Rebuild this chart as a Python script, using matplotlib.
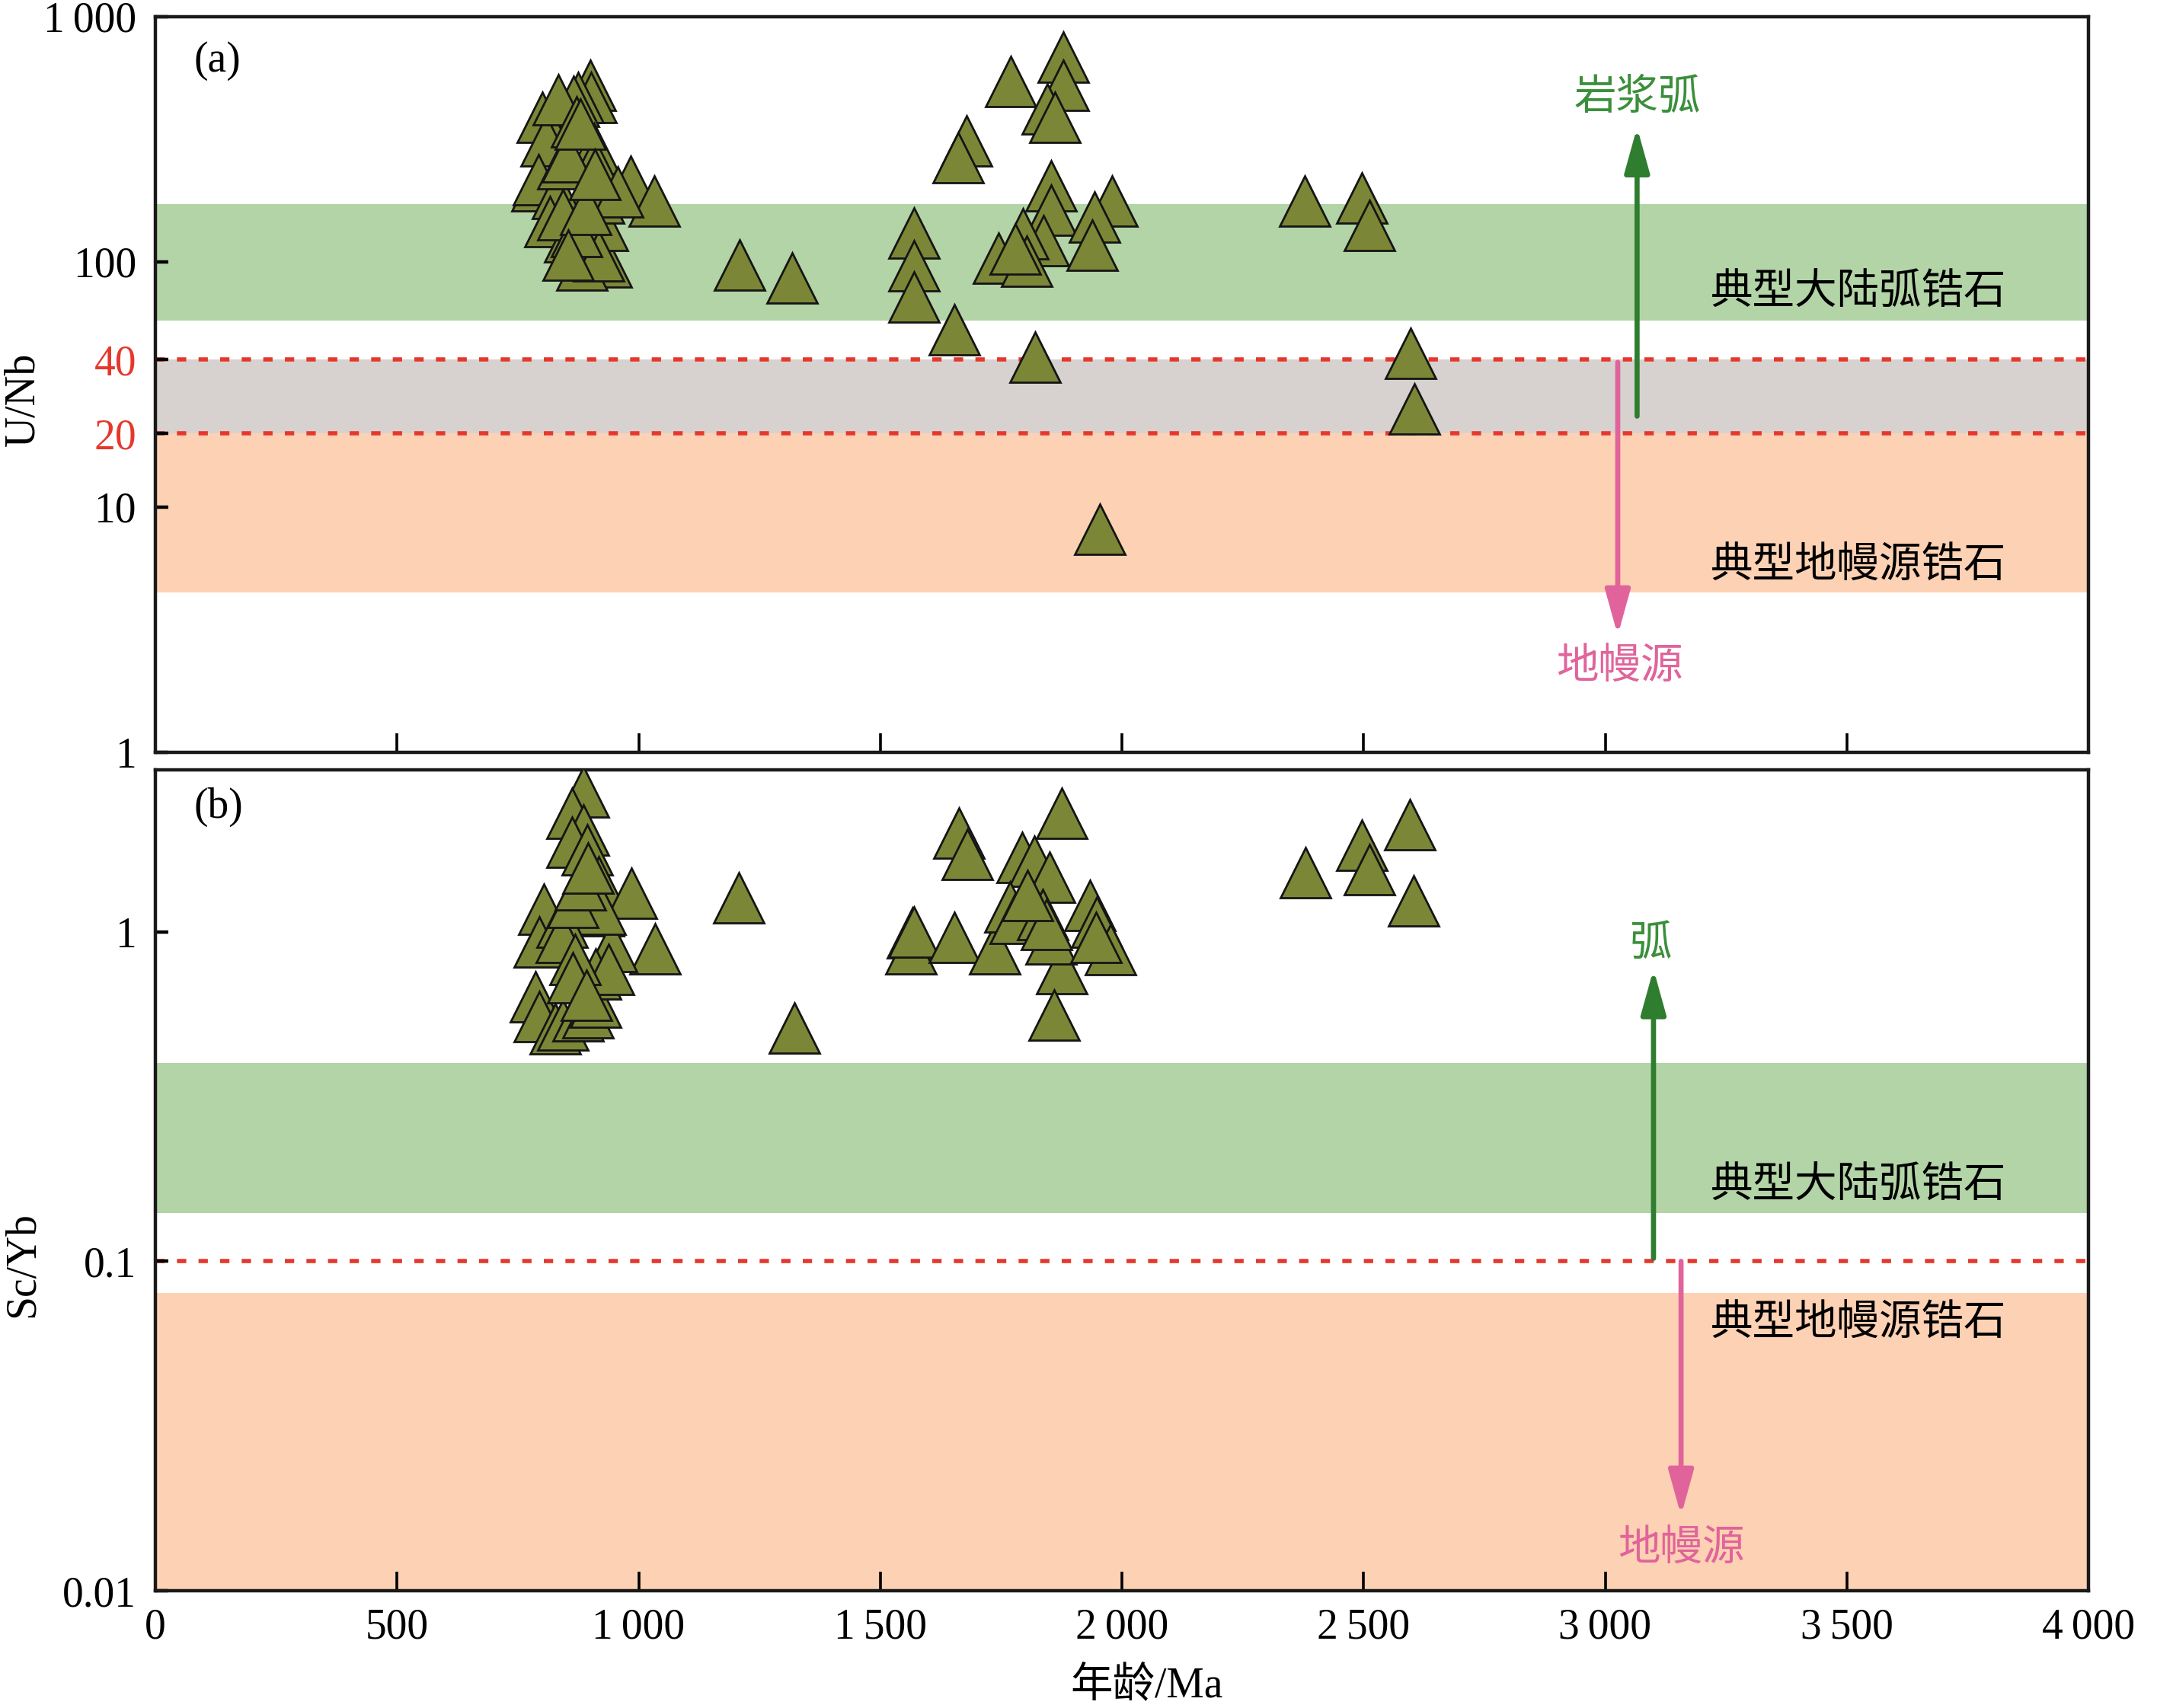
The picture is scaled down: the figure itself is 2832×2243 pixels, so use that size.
import matplotlib
matplotlib.use("Agg")
import matplotlib.pyplot as plt
import numpy as np

# ---------------- data ----------------
# Panel (a): age (Ma) vs U/Nb
age_a = [900, 901, 875, 866, 800, 808, 834, 871, 908, 908, 908, 984, 1033, 933, 883,
         925, 790, 793, 832, 817, 858, 883, 917, 917, 956, 843, 872, 890, 843, 853,
         880, 909, 854, 1209, 1318,
         1770, 1878, 1878, 1846, 1862, 1678, 1661, 1853, 1853, 1979, 1944, 1938, 1837,
         1795, 1745, 1803, 1779, 1569, 1569, 1569, 1653, 1820, 1954,
         2379, 2497, 2513, 2597, 2605]
u_nb = [526, 469, 467, 453, 390, 311, 458, 372, 290, 254, 213, 214, 177, 100, 97,
        141, 204, 217, 191, 146, 127, 118, 106, 182, 193, 156, 133, 164, 251, 269,
        366, 227, 107, 97, 86,
        545, 683, 524, 420, 390, 311, 266, 205, 163, 177, 152, 117, 122,
        130, 104, 101, 113, 131, 96.5, 72, 53, 41, 8.15,
        177, 182, 141, 42.5, 25.2]

# Panel (b): age (Ma) vs Sc/Yb
age_b = [886, 862, 886, 862, 894, 918, 985, 918, 1034, 944, 804, 795, 787, 795, 828,
         843, 875, 895, 911, 911, 937, 921, 842, 840, 869, 863, 892, 863, 879, 895,
         1207, 1323,
         1876, 1662, 1680, 1793, 1818, 1851, 1934, 1948, 1977, 1876, 1860, 1566, 1563,
         1569, 1653, 1737, 1854, 1768, 1779, 1836, 1844, 1946, 1805,
         2380, 2496, 2512, 2595, 2603]
sc_yb = [2.65, 2.29, 2.04, 1.87, 1.77, 1.42, 1.31, 1.16, 0.886, 0.90, 1.17, 0.93, 0.636, 0.552, 0.508,
         0.52, 0.557, 0.569, 0.61, 0.745, 0.77, 1.17, 1.07, 0.96, 0.823, 0.726, 0.64, 1.23, 1.39, 1.56,
         1.27, 0.511,
         2.29, 1.99, 1.72, 1.68, 1.64, 1.46, 1.20, 1.07, 0.885, 0.773, 0.56, 0.99, 0.89,
         1.0, 0.96, 0.886, 0.952, 1.19, 1.10, 1.13, 1.05, 0.96, 1.29,
         1.51, 1.83, 1.54, 2.11, 1.24]

# Reference fields
arc_a = (57.5, 172)      # typical continental arc zircon, U/Nb
gray_a = (20, 40)
mantle_a = (4.5, 20)
arc_b = (0.14, 0.40)
mantle_b = (0.01, 0.08)

x_ticks = [0, 500, 1000, 1500, 2000, 2500, 3000, 3500, 4000]
x_ticklabels = ["0", "500", "1\u2009000", "1\u2009500", "2\u2009000", "2\u2009500",
                "3\u2009000", "3\u2009500", "4\u2009000"]
ya_ticks = [1, 10, 20, 40, 100, 1000]
ya_ticklabels = ["1", "10", "20", "40", "100", "1\u2009000"]
yb_ticks = [0.01, 0.1, 1]
yb_ticklabels = ["0.01", "0.1", "1"]

# ---------------- style ----------------
SERIF = ["Liberation Serif", "DejaVu Serif"]
CJK = ["Noto Sans CJK SC", "DejaVu Sans"]
MIX = ["Liberation Serif", "Noto Sans CJK SC", "DejaVu Serif"]
plt.rcParams["font.family"] = SERIF

C_GREEN_BAND = "#b2d4a6"
C_GRAY_BAND = "#d7d2cf"
C_ORANGE_BAND = "#fdd1b3"
C_RED = "#e5382c"
C_TRI = "#7b8736"
C_GTXT = "#3b8f3b"
C_PINK = "#e0649b"
FS = 20

W, H = 2832, 2243
fig = plt.figure(figsize=(W / 200, H / 200), dpi=200)

def fx(px):
    return px / W

def fy(py):
    return 1 - py / H

left, right = 204, 2742
axa = fig.add_axes([fx(left), fy(988), fx(right) - fx(left), fy(22) - fy(988)])
axb = fig.add_axes([fx(left), fy(2089), fx(right) - fx(left), fy(1011) - fy(2089)])

for ax in (axa, axb):
    ax.set_yscale("log")
    ax.set_xlim(0, 4000)
    for s in ax.spines.values():
        s.set_linewidth(1.6)
        s.set_color("#1a1a1a")
    ax.minorticks_off()
    ax.set_xticks(x_ticks)
    ax.tick_params(axis="x", direction="in", length=9, width=1.3, pad=8,
                   labelsize=FS, top=False)
    ax.tick_params(axis="y", direction="in", length=6, width=1.6, pad=9,
                   labelsize=FS, right=False)
    ax.yaxis.set_minor_locator(matplotlib.ticker.NullLocator())

MS = 23.5

# ---- panel (a) ----
axa.set_ylim(1, 1000)
axa.axhspan(*arc_a, color=C_GREEN_BAND, lw=0, zorder=0)
axa.axhspan(*gray_a, color=C_GRAY_BAND, lw=0, zorder=0)
axa.axhspan(*mantle_a, color=C_ORANGE_BAND, lw=0, zorder=0)
for v in (40, 20):
    axa.axhline(v, color=C_RED, lw=2.0, dashes=(2.2, 2.9), zorder=1)
axa.set_yticks(ya_ticks)
axa.set_yticklabels(ya_ticklabels)
for lab, v in zip(axa.get_yticklabels(), ya_ticks):
    if v in (20, 40):
        lab.set_color(C_RED)
axa.set_xticklabels([])
axa.plot(age_a, u_nb, linestyle="none", marker="^", ms=MS, mfc=C_TRI,
         mec="#151515", mew=1.0, zorder=3)
axa.text(0.02, 0.94, "(a)", transform=axa.transAxes, fontsize=FS, va="center",
         ha="left")
axa.text(3525, 75, "典型大陆弧锆石", fontsize=FS, family=CJK, ha="center",
         va="center", zorder=4)
axa.text(3525, 5.8, "典型地幔源锆石", fontsize=FS, family=CJK, ha="center",
         va="center", zorder=4)
axa.annotate("", xy=(3066, 354), xytext=(3066, 23.5),
             arrowprops=dict(arrowstyle="-|>,head_length=0.9,head_width=0.25",
                             color="#2f7d2f", lw=2.4, mutation_scale=20,
                             shrinkA=0, shrinkB=0), zorder=4)
axa.annotate("", xy=(3026, 3.0), xytext=(3026, 39),
             arrowprops=dict(arrowstyle="-|>,head_length=0.9,head_width=0.25",
                             color=C_PINK, lw=2.4, mutation_scale=20,
                             shrinkA=0, shrinkB=0), zorder=4)
axa.text(3066, 469, "岩浆弧", fontsize=FS, family=CJK, color=C_GTXT,
         ha="center", va="center")
axa.text(3030, 2.25, "地幔源", fontsize=FS, family=CJK, color=C_PINK,
         ha="center", va="center")

# ---- panel (b) ----
axb.set_ylim(0.01, 3.1)
axb.axhspan(*arc_b, color=C_GREEN_BAND, lw=0, zorder=0)
axb.axhspan(*mantle_b, color=C_ORANGE_BAND, lw=0, zorder=0)
axb.axhline(0.1, color=C_RED, lw=2.0, dashes=(2.2, 2.9), zorder=1)
axb.set_yticks(yb_ticks)
axb.set_yticklabels(yb_ticklabels)
axb.set_xticklabels(x_ticklabels)
axb.plot(age_b, sc_yb, linestyle="none", marker="^", ms=MS, mfc=C_TRI,
         mec="#151515", mew=1.0, zorder=3)
axb.text(0.02, 0.955, "(b)", transform=axb.transAxes, fontsize=FS, va="center",
         ha="left")
axb.text(3525, 0.1695, "典型大陆弧锆石", fontsize=FS, family=CJK, ha="center",
         va="center", zorder=4)
axb.text(3525, 0.065, "典型地幔源锆石", fontsize=FS, family=CJK, ha="center",
         va="center", zorder=4)
axb.annotate("", xy=(3100, 0.77), xytext=(3100, 0.102),
             arrowprops=dict(arrowstyle="-|>,head_length=0.9,head_width=0.25",
                             color="#2f7d2f", lw=2.4, mutation_scale=20,
                             shrinkA=0, shrinkB=0), zorder=4)
axb.annotate("", xy=(3157, 0.0169), xytext=(3157, 0.1),
             arrowprops=dict(arrowstyle="-|>,head_length=0.9,head_width=0.25",
                             color=C_PINK, lw=2.4, mutation_scale=20,
                             shrinkA=0, shrinkB=0), zorder=4)
axb.text(3095, 0.92, "弧", fontsize=FS, family=CJK, color=C_GTXT,
         ha="center", va="center")
axb.text(3157, 0.01347, "地幔源", fontsize=FS, family=CJK, color=C_PINK,
         ha="center", va="center")

# axis labels
fig.text(fx(30), fy(524), "U/Nb", rotation=90, ha="center", va="center",
         fontsize=FS)
fig.text(fx(30), fy(1661), "Sc/Yb", rotation=90, ha="center", va="center",
         fontsize=FS)
fig.text(fx(1506), fy(2214), "年龄/Ma", ha="center", va="center", fontsize=FS,
         family=MIX)

fig.savefig("out.png", dpi=200)
